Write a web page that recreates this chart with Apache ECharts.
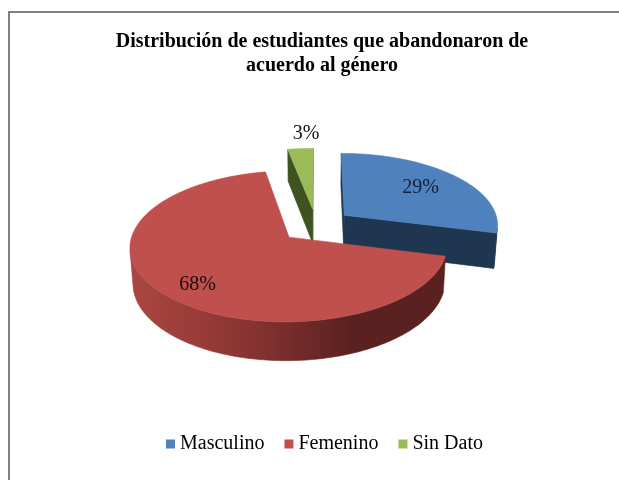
<!DOCTYPE html>
<html>
<head>
<meta charset="utf-8">
<script src="https://cdn.jsdelivr.net/npm/echarts@6/dist/echarts.min.js"></script>
<style>
  html, body { margin: 0; padding: 0; background: #ffffff; }
  #chart { width: 619px; height: 480px; }
</style>
</head>
<body>
<div id="chart"></div>
<script>
// Students who dropped out, by gender (percent)
const categories = ['Masculino', 'Femenino', 'Sin Dato'];
const shares = [29, 68, 3];

const titleLines = ['Distribución de estudiantes que abandonaron de', 'acuerdo al género'];

// Styling
const topColors  = ['#4f81bd', '#c0504d', '#9bbb59'];
const wallStops  = [
  [[0, '#1f3651'], [1, '#1f3651']],
  [[0, '#aa4641'], [0.35, '#8b3533'], [0.7, '#5b2120'], [1, '#5a2120']],
  [[0, '#3f5321'], [1, '#3f5321']]
];
const labelColors = ['#15213a', '#1c0c0c', '#111111'];
// where each percentage sits: radius (1 = rim) and angular nudge in degrees
const labelPlacement = [ { r: 0.68, shift: 0 }, { r: 0.79, shift: -5 }, { r: 1.28, shift: 3 } ];

// Tilted, exploded pie drawn with a small perspective camera
const VIEW = { cx: 316, cy: 260.5, fx: 1140, fy: 1177, dist: 7.5, sinT: 0.475, cosT: 0.88, height: 0.25, explode: 0.235 };
const TAU = Math.PI * 2;
const total = shares.reduce((a, b) => a + b, 0);

function project(X, Y, Z) {
  const w = VIEW.dist - Y * VIEW.sinT + Z * VIEW.cosT;
  const v = Y * VIEW.cosT + Z * VIEW.sinT;
  return [VIEW.cx + VIEW.fx * X / w, VIEW.cy - VIEW.fy * v / w];
}
const camera = [0, VIEW.dist * VIEW.sinT, -VIEW.dist * VIEW.cosT];
function facing(n, p) {
  return n[0] * (camera[0] - p[0]) + n[1] * (camera[1] - p[1]) + n[2] * (camera[2] - p[2]) > 0;
}
function startAngle(i) {
  let s = 0;
  for (let k = 0; k < i; k++) s += shares[k];
  return s / total * TAU;
}
function sliceOffset(i) {
  const mid = startAngle(i) + shares[i] / total * Math.PI;
  return [VIEW.explode * Math.sin(mid), VIEW.explode * Math.cos(mid)];
}

function poly(points, fill) {
  return { type: 'polygon', shape: { points: points }, style: { fill: fill, stroke: fill, lineWidth: 0.6 } };
}

function buildSlice(i, value) {
  const a0 = startAngle(i);
  const a1 = a0 + value / total * TAU;
  const mid = (a0 + a1) / 2;
  const ox = VIEW.explode * Math.sin(mid), oz = VIEW.explode * Math.cos(mid);
  const H = VIEW.height;
  const rim = (t, y) => project(ox + Math.sin(t), y, oz + Math.cos(t));
  const apexTop = project(ox, H, oz), apexBot = project(ox, 0, oz);
  const steps = Math.max(2, Math.ceil((a1 - a0) / (Math.PI / 180)));
  const angles = [];
  for (let k = 0; k <= steps; k++) angles.push(a0 + (a1 - a0) * k / steps);

  // wall gradient spans the slice's horizontal extent
  const xs = angles.map(t => rim(t, 0)[0]).concat([apexBot[0]]);
  const minX = Math.min.apply(null, xs), maxX = Math.max.apply(null, xs);
  const wallFill = {
    type: 'linear', x: minX, y: 0, x2: maxX, y2: 0, global: true,
    colorStops: wallStops[i].map(s => ({ offset: s[0], color: s[1] }))
  };

  const children = [];
  const centerPt = [ox, H / 2, oz];
  if (facing([-Math.cos(a0), 0, Math.sin(a0)], centerPt)) {
    children.push(poly([apexTop, rim(a0, H), rim(a0, 0), apexBot], wallFill));
  }
  if (facing([Math.cos(a1), 0, -Math.sin(a1)], centerPt)) {
    children.push(poly([apexTop, rim(a1, H), rim(a1, 0), apexBot], wallFill));
  }
  let run = [];
  const flush = () => {
    if (run.length > 1) {
      const pts = run.map(t => rim(t, H)).concat(run.slice().reverse().map(t => rim(t, 0)));
      children.push(poly(pts, wallFill));
    }
    run = [];
  };
  angles.forEach(t => {
    const p = [ox + Math.sin(t), H / 2, oz + Math.cos(t)];
    if (facing([Math.sin(t), 0, Math.cos(t)], p)) run.push(t); else flush();
  });
  flush();

  children.push(poly([apexTop].concat(angles.map(t => rim(t, H))), topColors[i]));

  const lp = labelPlacement[i];
  const lt = mid + lp.shift * Math.PI / 180;
  const lpos = project(ox + lp.r * Math.sin(lt), H, oz + lp.r * Math.cos(lt));
  children.push({
    type: 'text', x: lpos[0], y: lpos[1], z2: 20,
    style: {
      text: value + '%', fill: labelColors[i], align: 'center', verticalAlign: 'middle',
      fontFamily: '"Liberation Serif", "Times New Roman", serif', fontSize: 20
    }
  });
  return { type: 'group', children: children };
}

// paint back slices first
const depthOrder = categories.map((c, i) => i).sort((a, b) => sliceOffset(b)[1] - sliceOffset(a)[1]);

const chart = echarts.init(document.getElementById('chart'), null, { renderer: 'canvas' });
chart.setOption({
  animation: false,
  backgroundColor: '#ffffff',
  legend: {
    data: categories,
    left: 161, top: 429,
    icon: 'rect', itemWidth: 9, itemHeight: 9, itemGap: 20,
    textStyle: { fontFamily: '"Liberation Serif", "Times New Roman", serif', fontSize: 20, color: '#000000' },
    selectedMode: false
  },
  graphic: [
    {
      type: 'rect', shape: { x: 9, y: 12, width: 800, height: 800 },
      style: { fill: 'none', stroke: '#808080', lineWidth: 2 }, silent: true
    },
    {
      type: 'text', x: 322, y: 41.5,
      style: {
        text: titleLines[0], align: 'center', verticalAlign: 'middle', fill: '#000000',
        fontFamily: '"Liberation Serif", "Times New Roman", serif', fontSize: 20, fontWeight: 'bold'
      }
    },
    {
      type: 'text', x: 322, y: 65.5,
      style: {
        text: titleLines[1], align: 'center', verticalAlign: 'middle', fill: '#000000',
        fontFamily: '"Liberation Serif", "Times New Roman", serif', fontSize: 20, fontWeight: 'bold'
      }
    }
  ],
  series: categories.map((name, i) => ({
    type: 'custom',
    name: name,
    coordinateSystem: 'none',
    silent: true,
    z: 2 + depthOrder.indexOf(i),
    itemStyle: { color: topColors[i] },
    data: [shares[i]],
    renderItem: (params, api) => buildSlice(i, api.value(0))
  }))
});
</script>
</body>
</html>
